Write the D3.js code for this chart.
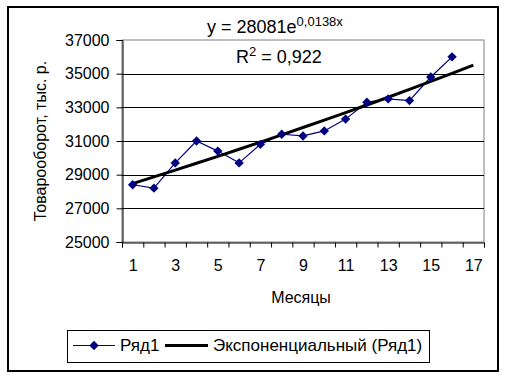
<!DOCTYPE html>
<html><head><meta charset="utf-8">
<script src="https://cdn.jsdelivr.net/npm/d3@7"></script>
<style>
html,body{margin:0;padding:0;background:#fff;}
svg text{font-family:"Liberation Sans",Arial,sans-serif;fill:#000;}
</style></head>
<body><svg id="c" width="507" height="380"></svg>
<script>
const months = [1,2,3,4,5,6,7,8,9,10,11,12,13,14,15,16];
const sales = [28400,28200,29700,31000,30400,29700,30800,31400,31300,31600,32300,33300,33500,33400,34800,36000];
const trendX = [1,2,3,4,5,6,7,8,9,10,11,12,13,14,15,16,17];
const trendY = [28470,28870,29270,29680,30090,30510,30930,31360,31800,32240,32690,33140,33600,34070,34540,35020,35510];
const yTicks = [25000,27000,29000,31000,33000,35000,37000];
const xLabels = [1,3,5,7,9,11,13,15,17];
const seriesName = "Ряд1";
const trendName = "Экспоненциальный (Ряд1)";
const xTitle = "Месяцы";
const yTitle = "Товарооборот, тыс. р.";

const svg = d3.select("#c");
const L=122, R=484, T=40, B=242;
const x = d3.scaleLinear().domain([0.5,17.5]).range([L,R]);
const y = d3.scaleLinear().domain([25000,37000]).range([B,T]);

// outer frame
svg.append("rect").attr("x",8).attr("y",7).attr("width",490).attr("height",364)
  .attr("fill","#fff").attr("stroke","#000").attr("stroke-width",2);

// plot border (gray)
svg.append("rect").attr("x",L).attr("y",T).attr("width",R-L).attr("height",B-T)
  .attr("fill","none").attr("stroke","#808080").attr("stroke-width",1);

// gridlines
svg.append("g").selectAll("line").data(yTicks.filter(v=>v>25000&&v<37000)).join("line")
  .attr("x1",L).attr("x2",R).attr("y1",d=>Math.round(y(d))+0.5).attr("y2",d=>Math.round(y(d))+0.5)
  .attr("stroke","#000").attr("stroke-width",1);

// y axis
const ya = svg.append("g").attr("transform",`translate(${L+0.5},0)`)
  .call(d3.axisLeft(y).tickValues(yTicks).tickFormat(d3.format("d")).tickSize(6).tickPadding(7));
ya.select(".domain").attr("stroke","#000");
ya.selectAll("text").style("font-size","16px").attr("font-family","Liberation Sans, Arial, sans-serif");

// x axis: tick marks at band boundaries
const bounds = d3.range(0.5,18,1);
const xa = svg.append("g").attr("transform",`translate(0,${B+0.5})`)
  .call(d3.axisBottom(x).tickValues(bounds).tickFormat("").tickSize(5));
xa.select(".domain").attr("stroke","#000");
const xl = svg.append("g").attr("transform",`translate(0,${B+0.5})`)
  .call(d3.axisBottom(x).tickValues(xLabels).tickFormat(d3.format("d")).tickSize(0).tickPadding(17));
xl.select(".domain").remove();
xl.selectAll("text").style("font-size","16px").attr("font-family","Liberation Sans, Arial, sans-serif");

// series line
const line = d3.line().x((d,i)=>x(months[i])).y(d=>y(d));
svg.append("path").datum(sales).attr("d",line).attr("fill","none")
  .attr("stroke","#000080").attr("stroke-width",1.2);
// trend line
const tline = d3.line().x((d,i)=>x(trendX[i])).y(d=>y(d));
svg.append("path").datum(trendY).attr("d",tline).attr("fill","none")
  .attr("stroke","#000").attr("stroke-width",3);
// markers (square rotated 45deg)
const diamond = d3.symbol().type(d3.symbolSquare).size(44);
svg.append("g").selectAll("path").data(sales).join("path")
  .attr("d",diamond).attr("transform",(d,i)=>`translate(${x(months[i])},${y(d)}) rotate(45)`)
  .attr("fill","#000080");

// equation labels
const eq = svg.append("text").attr("x",207).attr("y",33).style("font-size","18px");
eq.append("tspan").text("y = 28081e");
eq.append("tspan").attr("dy",-7).style("font-size","13px").text("0,0138x");
const r2 = svg.append("text").attr("x",236).attr("y",63).style("font-size","18px");
r2.append("tspan").text("R");
r2.append("tspan").attr("dy",-7).style("font-size","13px").text("2");
r2.append("tspan").attr("dy",7).text(" = 0,922");

// axis titles
svg.append("text").attr("x",301).attr("y",303).attr("text-anchor","middle")
  .style("font-size","16px").text(xTitle);
svg.append("text").attr("transform","translate(46,141) rotate(-90)").attr("text-anchor","middle")
  .style("font-size","16px").text(yTitle);

// legend
svg.append("rect").attr("x",67.5).attr("y",330.5).attr("width",362).attr("height",32)
  .attr("fill","#fff").attr("stroke","#000").attr("stroke-width",1);
svg.append("line").attr("x1",73).attr("x2",115).attr("y1",345.5).attr("y2",345.5)
  .attr("stroke","#000080").attr("stroke-width",1.2);
svg.append("path").attr("d",diamond).attr("transform","translate(94,345.5) rotate(45)").attr("fill","#000080");
svg.append("text").attr("x",120).attr("y",351).style("font-size","17px").text(seriesName);
svg.append("line").attr("x1",165).attr("x2",208).attr("y1",345.5).attr("y2",345.5)
  .attr("stroke","#000").attr("stroke-width",3);
svg.append("text").attr("x",213).attr("y",351).style("font-size","17px").text(trendName);
</script></body></html>
